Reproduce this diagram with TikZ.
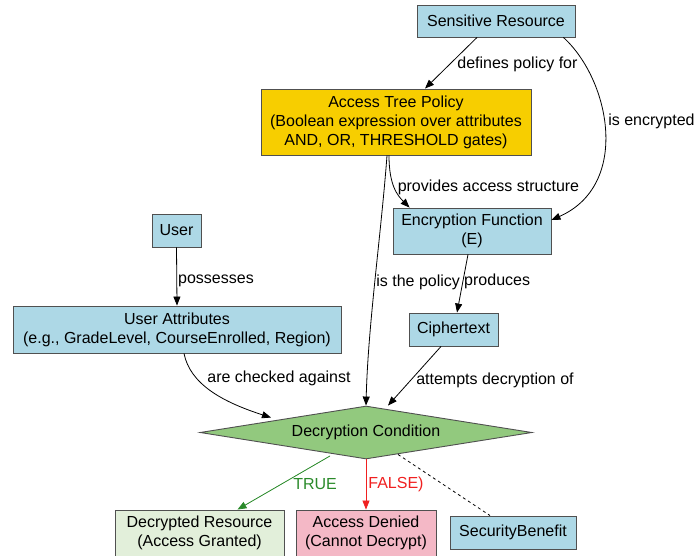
\documentclass[tikz,border=0pt]{standalone}
\usepackage{fontspec}
\setmainfont{Liberation Sans}
\usetikzlibrary{arrows.meta,shapes.geometric,calc}
\definecolor{boxblue}{HTML}{ADD8E6}
\definecolor{policygold}{HTML}{F7CE00}
\definecolor{condgreen}{HTML}{92C97E}
\definecolor{grantgreen}{HTML}{E2EFDA}
\definecolor{denypink}{HTML}{F4B8C6}
\definecolor{edgegray}{HTML}{505050}
\definecolor{truegreen}{HTML}{2A8A2A}
\definecolor{falsered}{HTML}{F02020}
\begin{document}
\begin{tikzpicture}[x=1pt,y=-1pt,
  font=\fontsize{16}{19}\selectfont,
  box/.style={draw=edgegray, line width=0.9pt, fill=boxblue, inner sep=0pt,
    align=center, rectangle},
  cond/.style={draw=edgegray, line width=0.9pt, fill=condgreen, diamond,
    inner sep=0pt, aspect=6.26, minimum width=332pt, minimum height=53pt},
  link/.style={line width=0.8pt, -{Triangle[length=9pt,width=7pt]}},
  lbl/.style={inner sep=1pt, anchor=west, font=\fontsize{16}{19}\selectfont}]
\useasboundingbox (0,0) rectangle (695,556);

% nodes
\node[box, minimum width=158pt, minimum height=32pt] (sr) at (496,21) {Sensitive Resource};
\node[box, fill=policygold, minimum width=270pt, minimum height=66pt] (atp) at (396,122)
  {Access Tree Policy\\(Boolean expression over attributes\\AND, OR, THRESHOLD gates)};
\node[box, minimum width=49pt, minimum height=33pt] (user) at (176.5,230.5) {User};
\node[box, minimum width=328pt, minimum height=47pt] (ua) at (177,329.5)
  {User Attributes\\(e.g., GradeLevel, CourseEnrolled, Region)};
\node[box, minimum width=158pt, minimum height=46pt] (enc) at (472,231)
  {Encryption Function\\(E)};
\node[box, minimum width=89pt, minimum height=33pt] (ciph) at (453.5,329.5) {Ciphertext};
\node[cond] (dc) at (366,432.5) {Decryption Condition};
\node[box, fill=grantgreen, minimum width=169pt, minimum height=46pt] (dr) at (199.5,533)
  {Decrypted Resource\\(Access Granted)};
\node[box, fill=denypink, minimum width=140pt, minimum height=46pt] (ad) at (366,533)
  {Access Denied\\(Cannot Decrypt)};
\node[box, minimum width=126pt, minimum height=33pt] (sb) at (513,532.5) {SecurityBenefit};

% connectors
\draw[link] ($(sr.south)+(-19,0)$) -- ($(atp.north)+(29,0)$)
  node[lbl, pos=0.5, xshift=5pt, yshift=-1pt] (l1) {defines policy for};
\draw[link] ($(sr.south east)+(-12,0)$) .. controls +(47,43) and +(79,-35) .. ($(enc.east)+(0,-11)$)
  node[lbl, pos=0.45, xshift=3pt] (l2) {is encrypted};
\draw[link] ($(atp.south)+(-7,0)$) .. controls +(0,30) and +(-12,-12) .. ($(enc.north west)+(17,0)$)
  node[lbl, pos=0.48, xshift=2pt] (l3) {provides access structure};
\draw[link] ($(atp.south)+(-9,0)$) .. controls +(-6,80) and +(2,-80) .. (dc.north)
  node[lbl, pos=0.5, xshift=0pt, yshift=-2pt] (l4) {is the policy};
\draw[link] ($(enc.south)+(-4,0)$) -- ($(ciph.north)+(3.5,0)$)
  node[lbl, pos=0.47, xshift=0pt] (l5) {produces};
\draw[link] (user.south) -- (ua.north)
  node[lbl, pos=0.56, xshift=0pt, yshift=-1pt] (l6) {possesses};
\draw[link] ($(ua.south)+(7,0)$) .. controls +(6,30) and +(-50,-16) .. ($(dc.north)+(-95,12)$)
  node[lbl, pos=0.3, xshift=10pt, yshift=-1pt] (l7) {are checked against};
\draw[link] ($(ciph.south)+(-12.5,0)$) -- ($(dc.north)+(22,0)$)
  node[lbl, pos=0.55, xshift=3pt, yshift=-1pt] (l8) {attempts decryption of};
\draw[link, draw=truegreen, fill=truegreen] ($(dc.south)+(-36,-3.5)$) -- ($(dr.north)+(38,0)$)
  node[lbl, pos=0.52, xshift=10pt, text=truegreen] (l9) {TRUE};
\draw[link, draw=falsered, fill=falsered] (dc.south) -- (ad.north)
  node[lbl, pos=0.5, xshift=1pt, text=falsered] (l10) {FALSE)};
\draw[line width=0.8pt, dashed] ($(dc.south)+(32,-5)$) -- ($(sb.north)+(-23,0)$);
\end{tikzpicture}
\end{document}
